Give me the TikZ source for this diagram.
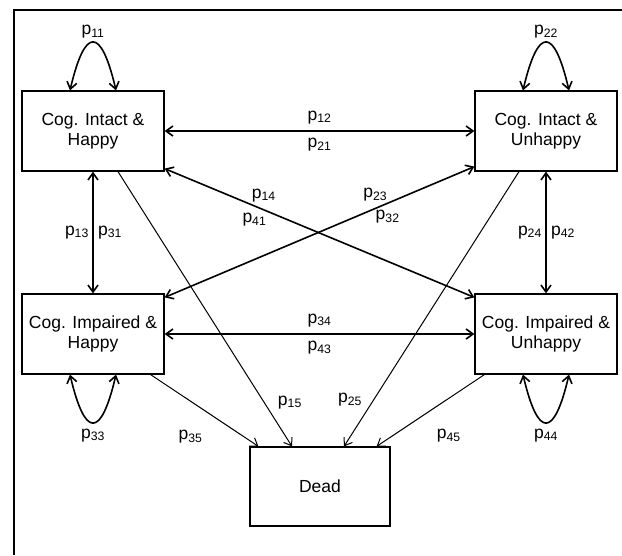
\documentclass[tikz,border=0pt]{standalone}
\usepackage{fontspec}
\setmainfont{Liberation Sans}
\usetikzlibrary{arrows.meta}

\tikzset{
  box/.style={draw,line width=1.2pt,minimum width=142pt,minimum height=80pt,
    align=center,inner sep=0pt,font=\fontsize{17.5}{20}\selectfont},
  link/.style={<->,line width=1.6pt},
  die/.style={->,line width=1pt},
  lab/.style={font=\fontsize{17.5}{20}\selectfont},
  >={Straight Barb[length=7pt,width=10pt]}
}

\begin{document}
\begin{tikzpicture}[x=1pt,y=1pt,every node/.append style={lab}]
  \useasboundingbox (0,0) rectangle (622,-555);
  \draw[line width=1.5pt] (14,-555) -- (14,-10) -- (622,-10);

  \node[box](ih) at (93,-131) {Cog. Intact \&\\Happy};
  \node[box](iu) at (546,-131) {Cog. Intact \&\\Unhappy};
  \node[box](ph) at (93,-334) {Cog. Impaired \&\\Happy};
  \node[box](pu) at (546,-334) {Cog. Impaired \&\\Unhappy};
  \node[box,minimum width=140pt,minimum height=79pt](dead) at (320,-486.5) {Dead};

  % transitions between the living states
  \draw[link] (ih) --node[midway,above=3pt]{p\textsubscript{12}} node[midway,below=3pt]{p\textsubscript{21}} (iu);
  \draw[link] (ph) --node[midway,above=3pt]{p\textsubscript{34}} node[midway,below=3pt]{p\textsubscript{43}} (pu);
  \draw[link] (ih) --node[midway,left]{p\textsubscript{13}} node[midway,right=1pt]{p\textsubscript{31}} (ph);
  \draw[link] (iu) --node[midway,left]{p\textsubscript{24}} node[midway,right=1pt]{p\textsubscript{42}} (pu);
  \draw[link] ([yshift=3]ih.south east) --node[pos=0.32,above=4pt]{p\textsubscript{14}} node[pos=0.29,below=3pt]{p\textsubscript{41}} ([yshift=-4]pu.north west);
  \draw[link] ([yshift=-4]ph.north east) --node[pos=0.68,above=3pt]{p\textsubscript{23}} node[pos=0.72,below=3pt]{p\textsubscript{32}} ([yshift=5]iu.south west);

  % staying in the same state
  \draw[link] ([xshift=-23]ih.north) .. controls +(15,64) and +(-15,64) .. ([xshift=23]ih.north) node[midway,above]{p\textsubscript{11}};
  \draw[link] ([xshift=-23]iu.north) .. controls +(15,64) and +(-15,64) .. ([xshift=23]iu.north) node[midway,above]{p\textsubscript{22}};
  \draw[link] ([xshift=-23]ph.south) .. controls +(15,-64) and +(-15,-64) .. ([xshift=23]ph.south) node[midway,below=2pt]{p\textsubscript{33}};
  \draw[link] ([xshift=-23]pu.south) .. controls +(15,-64) and +(-15,-64) .. ([xshift=23]pu.south) node[midway,below=2pt]{p\textsubscript{44}};

  % dying
  \draw[die] ([xshift=25]ih.south) --node[pos=0.84,right=10pt]{p\textsubscript{15}} ([xshift=-28]dead.north);
  \draw[die] ([xshift=-27]iu.south) --node[pos=0.83,left=8pt]{p\textsubscript{25}} ([xshift=24]dead.north);
  \draw[die] ([xshift=-14]ph.south east) --node[pos=0.37,below=25pt]{p\textsubscript{35}} ([xshift=9]dead.north west);
  \draw[die] ([xshift=10]pu.south west) --node[pos=0.33,below=27pt]{p\textsubscript{45}} ([xshift=-14]dead.north east);
\end{tikzpicture}
\end{document}
